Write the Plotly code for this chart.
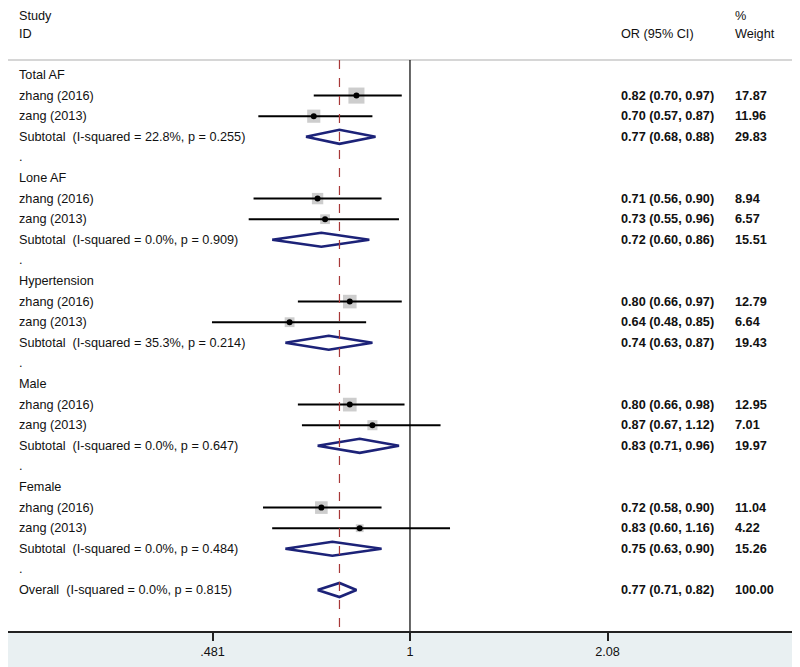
import math
import plotly.graph_objects as go

# subgroup names and study labels
groups = ["Total AF", "Lone AF", "Hypertension", "Male", "Female"]
study_names = ["zhang (2016)", "zang (2013)"]

# zhang (2016) per subgroup
zhang_or = [0.82, 0.71, 0.80, 0.80, 0.72]
zhang_lo = [0.70, 0.56, 0.66, 0.66, 0.58]
zhang_hi = [0.97, 0.90, 0.97, 0.98, 0.90]
zhang_w = [17.87, 8.94, 12.79, 12.95, 11.04]

# zang (2013) per subgroup
zang_or = [0.70, 0.73, 0.64, 0.87, 0.83]
zang_lo = [0.57, 0.55, 0.48, 0.67, 0.60]
zang_hi = [0.87, 0.96, 0.85, 1.12, 1.16]
zang_w = [11.96, 6.57, 6.64, 7.01, 4.22]

# subtotals
sub_or = [0.77, 0.72, 0.74, 0.83, 0.75]
sub_lo = [0.68, 0.60, 0.63, 0.71, 0.63]
sub_hi = [0.88, 0.86, 0.87, 0.96, 0.90]
sub_w = [29.83, 15.51, 19.43, 19.97, 15.26]
sub_i2 = [22.8, 0.0, 35.3, 0.0, 0.0]
sub_p = [0.255, 0.909, 0.214, 0.647, 0.484]

# overall
overall_or = 0.77
overall_lo = 0.71
overall_hi = 0.82
overall_w = 100.00
overall_i2 = 0.0
overall_p = 0.815

tick_vals = [0.481, 1, 2.08]
tick_text = [".481", "1", "2.08"]

FONT = "Liberation Sans, Arial, sans-serif"
FS = 12.7
TXT = "#111111"
NAVY = "#1c2278"
BOX = "#b8b8b8"
SP = "\u00a0"

# rows: group header, study 1, study 2, subtotal, spacer "."
est_x, est_y, est_w, ci_x, ci_y = [], [], [], [], []
dia_x, dia_y = [], []
labels = []  # (row, left text, or text, weight text)
h = 0.34

def fmt(o, l, u):
    return f"{o:.2f} ({l:.2f}, {u:.2f})"

for g, name in enumerate(groups):
    base = g * 5
    labels.append((base, name, "", ""))
    for k, (o, l, u, w) in enumerate([(zhang_or[g], zhang_lo[g], zhang_hi[g], zhang_w[g]),
                                     (zang_or[g], zang_lo[g], zang_hi[g], zang_w[g])]):
        r = base + 1 + k
        est_x.append(o); est_y.append(r); est_w.append(w)
        ci_x += [l, u, None]; ci_y += [r, r, None]
        labels.append((r, study_names[k], fmt(o, l, u), f"{w:.2f}"))
    r = base + 3
    dia_x += [sub_lo[g], sub_or[g], sub_hi[g], sub_or[g], sub_lo[g], None]
    dia_y += [r, r - h, r, r + h, r, None]
    labels.append((r, f"Subtotal{SP}{SP}(I-squared = {sub_i2[g]:.1f}%, p = {sub_p[g]:.3f})",
                   fmt(sub_or[g], sub_lo[g], sub_hi[g]), f"{sub_w[g]:.2f}"))
    labels.append((base + 4, ".", "", ""))

r = 25
dia_x += [overall_lo, overall_or, overall_hi, overall_or, overall_lo]
dia_y += [r, r - h, r, r + h, r]
labels.append((r, f"Overall{SP}{SP}(I-squared = {overall_i2:.1f}%, p = {overall_p:.3f})",
               fmt(overall_or, overall_lo, overall_hi), f"{overall_w:.2f}"))

fig = go.Figure()

# weight boxes
fig.add_trace(go.Scatter(
    x=est_x, y=est_y, mode="markers",
    marker=dict(symbol="square", color=BOX, size=[math.sqrt(w) * 3.8 for w in est_w], line_width=0),
    hoverinfo="skip"))
# confidence intervals
fig.add_trace(go.Scatter(x=ci_x, y=ci_y, mode="lines", line=dict(color="black", width=2),
                         hoverinfo="skip"))
# point estimates
fig.add_trace(go.Scatter(x=est_x, y=est_y, mode="markers",
                         marker=dict(symbol="circle", color="black", size=6), hoverinfo="skip"))
# pooled diamonds
fig.add_trace(go.Scatter(x=dia_x, y=dia_y, mode="lines", line=dict(color=NAVY, width=2.6),
                         hoverinfo="skip"))

ann = []
x_left, x_or, x_w = 0.0114, 0.7764, 0.9212
for r, left, orci, wt in labels:
    for xp, t, bold in ((x_left, left, False), (x_or, orci, True), (x_w, wt, True)):
        if t:
            ann.append(dict(x=xp, y=r, xref="paper", yref="y",
                            text=f"<b>{t}</b>" if bold else t, showarrow=False,
                            xanchor="left", yanchor="middle", font=dict(size=FS, color=TXT)))
for r, t, xp in ((-2.88, "Study", x_left), (-2, "ID", x_left), (-2, "OR (95% CI)", x_or),
                 (-2.88, "%", x_w), (-2, "Weight", x_w)):
    ann.append(dict(x=xp, y=r, xref="paper", yref="y", text=t, showarrow=False,
                    xanchor="left", yanchor="middle", font=dict(size=FS, color=TXT)))

top_line = -0.73
y_bottom = 26.99
shapes = [
    dict(type="line", xref="paper", yref="y", x0=0, x1=1, y0=top_line, y1=top_line,
         line=dict(color="#c8c8c8", width=1.5)),
    dict(type="line", xref="x", yref="y", x0=1, x1=1, y0=top_line, y1=y_bottom,
         line=dict(color="black", width=1.2)),
    dict(type="line", xref="x", yref="y", x0=overall_or, x1=overall_or,
         y0=top_line, y1=y_bottom, line=dict(color="#a83838", width=1.2, dash="dash")),
]

fig.update_layout(
    width=792, height=659,
    margin=dict(l=0, r=5, t=0, b=36),
    paper_bgcolor="#e9f0f2",
    plot_bgcolor="white",
    showlegend=False,
    font=dict(family=FONT, size=FS, color=TXT),
    annotations=ann,
    shapes=shapes,
    xaxis=dict(type="log", range=[-0.6471, 0.6198], tickvals=tick_vals, ticktext=tick_text,
               showgrid=False, zeroline=False, showline=True, linecolor="#222", linewidth=1.5,
               ticks="outside", ticklen=8, tickwidth=1.5, tickcolor="#222",
               tickfont=dict(size=FS, color=TXT)),
    yaxis=dict(range=[y_bottom, -3.252], visible=False, showgrid=False, zeroline=False),
)

fig.write_html("out.html")
